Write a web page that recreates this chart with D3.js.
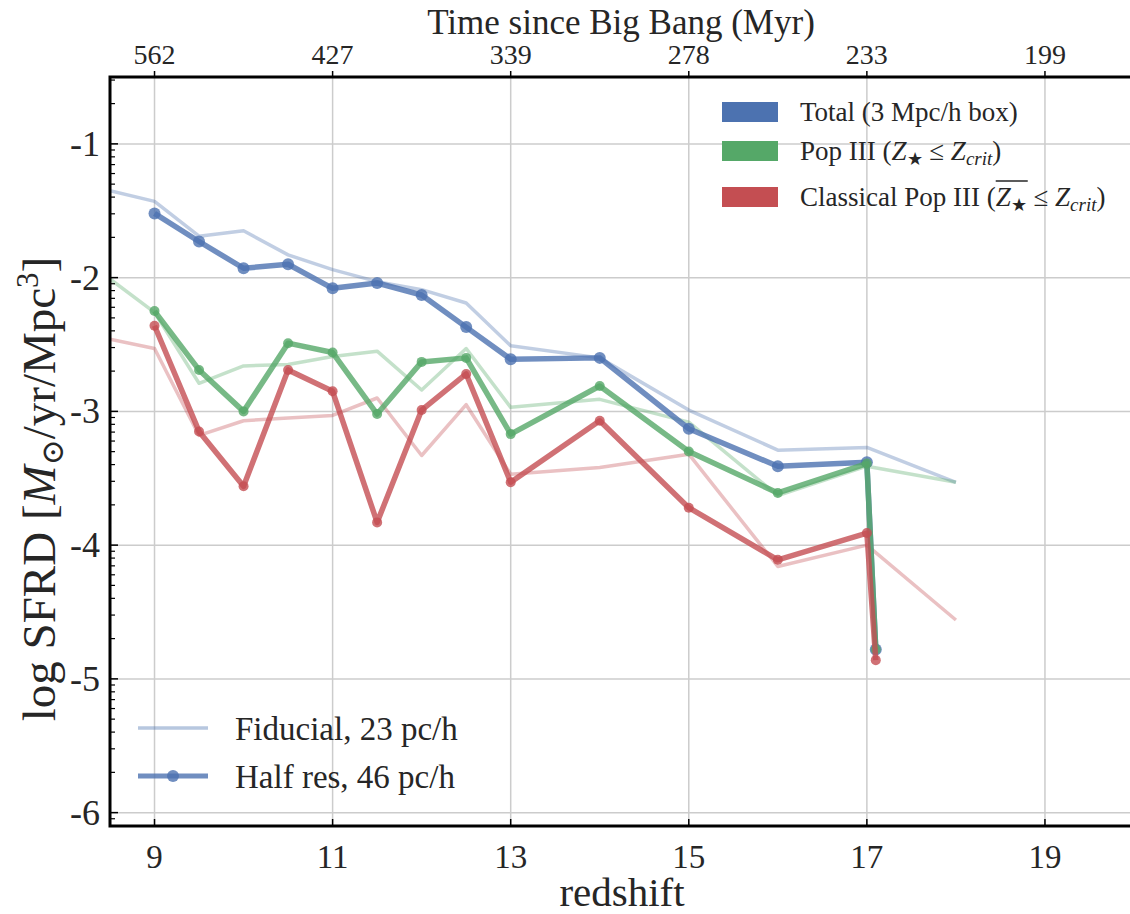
<!DOCTYPE html>
<html>
<head>
<meta charset="utf-8">
<script src="https://cdn.jsdelivr.net/npm/d3@7"></script>
<style>
  body { margin: 0; background: #fff; }
  svg { font-family: "Liberation Serif", "DejaVu Serif", serif; }
</style>
</head>
<body>
<script>
// redshift samples
var zHalf = [9, 9.5, 10, 10.5, 11, 11.5, 12, 12.5, 13, 14, 15, 16, 17, 17.1];
var zFid = [8.5, 9, 9.5, 10, 10.5, 11, 11.5, 12, 12.5, 13, 14, 15, 16, 17, 18];

// log SFRD, half res run (46 pc/h)
var totalHalf = [-1.52, -1.73, -1.93, -1.90, -2.08, -2.04, -2.13, -2.37, -2.61, -2.60, -3.13, -3.41, -3.38, -4.78];
var popHalf = [-2.25, -2.69, -3.00, -2.49, -2.56, -3.02, -2.63, -2.60, -3.17, -2.81, -3.30, -3.61, -3.39, -4.78];
var classHalf = [-2.36, -3.15, -3.56, -2.69, -2.85, -3.83, -2.99, -2.72, -3.53, -3.07, -3.72, -4.11, -3.91, -4.86];

// log SFRD, fiducial run (23 pc/h)
var totalFid = [-1.35, -1.43, -1.69, -1.65, -1.83, -1.94, -2.03, -2.09, -2.19, -2.51, -2.60, -2.99, -3.29, -3.27, -3.53];
var popFid = [-2.01, -2.26, -2.79, -2.66, -2.65, -2.59, -2.55, -2.84, -2.53, -2.97, -2.91, -3.08, -3.63, -3.41, -3.53];
var classFid = [-2.46, -2.53, -3.18, -3.07, -3.05, -3.03, -2.90, -3.33, -2.95, -3.47, -3.42, -3.32, -4.16, -4.00, -4.56];

var xTicks = [9, 11, 13, 15, 17, 19];
var timeLabels = ["562", "427", "339", "278", "233", "199"];
var yTicks = [-1, -2, -3, -4, -5, -6];

var colors = { total: "#4C72B0", pop: "#55A868", cls: "#C44E52" };

var W = 1130, H = 914;
var m = { left: 110, right: 1134, top: 77, bottom: 826 };

var x = d3.scaleLinear().domain([8.5, 20]).range([m.left, m.right]);
var y = d3.scaleLinear().domain([-6.1, -0.5]).range([m.bottom, m.top]);

var svg = d3.select("body").append("svg")
	.attr("width", W)
	.attr("height", H);

svg.append("defs").append("clipPath").attr("id", "clip")
	.append("rect")
	.attr("x", m.left).attr("y", m.top)
	.attr("width", m.right - m.left).attr("height", m.bottom - m.top);

// grid
var grid = svg.append("g");
grid.selectAll(".gx").data(xTicks).enter().append("line")
	.attr("x1", d => x(d)).attr("x2", d => x(d))
	.attr("y1", m.top).attr("y2", m.bottom)
	.attr("stroke", "#cccccc").attr("stroke-width", 1.5);
grid.selectAll(".gy").data(yTicks).enter().append("line")
	.attr("x1", m.left).attr("x2", m.right)
	.attr("y1", d => y(d)).attr("y2", d => y(d))
	.attr("stroke", "#cccccc").attr("stroke-width", 1.5);

// minor ticks (log spacing inside each decade)
var minor = [];
for (var n = -7; n <= -1; n++) {
	for (var k = 2; k <= 9; k++) {
		var v = n + Math.log10(k);
		if (v > -6.1 && v < -0.5) minor.push(v);
	}
}

var line = d3.line().x(d => x(d[0])).y(d => y(d[1]));
var plot = svg.append("g").attr("clip-path", "url(#clip)");

function series(zs, vs, col, faint, r) {
	var pts = zs.map((z, i) => [z, vs[i]]);
	plot.append("path").datum(pts)
		.attr("d", line)
		.attr("fill", "none")
		.attr("stroke", col)
		.attr("stroke-width", faint ? 3.5 : 5.5)
		.attr("stroke-opacity", faint ? 0.35 : 0.8)
		.attr("stroke-linejoin", "round");
	if (!faint) {
		plot.selectAll(null).data(pts).enter().append("circle")
			.attr("cx", d => x(d[0])).attr("cy", d => y(d[1]))
			.attr("r", r)
			.attr("fill", col).attr("fill-opacity", 0.8);
	}
}

series(zFid, totalFid, colors.total, true);
series(zFid, popFid, colors.pop, true);
series(zFid, classFid, colors.cls, true);
series(zHalf, totalHalf, colors.total, false, 6);
series(zHalf, popHalf, colors.pop, false, 5);
series(zHalf, classHalf, colors.cls, false, 5);

// ticks
var tk = svg.append("g").attr("stroke", "#000");
tk.selectAll(".ym").data(yTicks).enter().append("line")
	.attr("x1", m.left).attr("x2", m.left + 8)
	.attr("y1", d => y(d)).attr("y2", d => y(d)).attr("stroke-width", 1.5);
tk.selectAll(".yn").data(minor).enter().append("line")
	.attr("x1", m.left).attr("x2", m.left + 5)
	.attr("y1", d => y(d)).attr("y2", d => y(d)).attr("stroke-width", 1.2);
tk.selectAll(".xb").data(xTicks).enter().append("line")
	.attr("x1", d => x(d)).attr("x2", d => x(d))
	.attr("y1", m.bottom).attr("y2", m.bottom - 7).attr("stroke-width", 1.5);
tk.selectAll(".xt").data(xTicks).enter().append("line")
	.attr("x1", d => x(d)).attr("x2", d => x(d))
	.attr("y1", m.top).attr("y2", m.top - 6).attr("stroke-width", 1.5);

// spines
svg.append("rect")
	.attr("x", m.left).attr("y", m.top)
	.attr("width", m.right - m.left).attr("height", m.bottom - m.top)
	.attr("fill", "none").attr("stroke", "#000").attr("stroke-width", 3);

// tick labels
var txt = "#262626";
svg.selectAll(".ylab").data(yTicks).enter().append("text")
	.attr("x", 100).attr("y", d => y(d) + 12)
	.attr("text-anchor", "end").attr("font-size", 36).attr("fill", txt)
	.text(d => d);
svg.selectAll(".xlab").data(xTicks).enter().append("text")
	.attr("x", d => x(d)).attr("y", 868)
	.attr("text-anchor", "middle").attr("font-size", 33).attr("fill", txt)
	.text(d => d);
svg.selectAll(".tlab").data(xTicks).enter().append("text")
	.attr("x", d => x(d)).attr("y", 64)
	.attr("text-anchor", "middle").attr("font-size", 28).attr("fill", txt)
	.text((d, i) => timeLabels[i]);

// axis titles
svg.append("text").attr("x", (m.left + m.right) / 2).attr("y", 906)
	.attr("text-anchor", "middle").attr("font-size", 41).attr("fill", txt)
	.text("redshift");
svg.append("text").attr("x", 621).attr("y", 34)
	.attr("text-anchor", "middle").attr("font-size", 35).attr("fill", txt)
	.text("Time since Big Bang (Myr)");

var yl = svg.append("text")
	.attr("transform", "translate(55,489) rotate(-90)")
	.attr("text-anchor", "middle").attr("font-size", 47).attr("fill", txt);
yl.append("tspan").text("log SFRD [");
yl.append("tspan").attr("font-style", "italic").text("M");
yl.append("tspan").attr("font-size", 31).attr("dy", 8).text("\u2299");
yl.append("tspan").attr("dy", -8).text("/yr/Mpc");
yl.append("tspan").attr("font-size", 31).attr("dy", -17).text("3");
yl.append("tspan").attr("dy", 17).text("]");

// legend: components
var lg = svg.append("g").attr("font-size", 27).attr("fill", txt);
var legItems = [
	{ col: colors.total, y: 102 },
	{ col: colors.pop, y: 141 },
	{ col: colors.cls, y: 187 }
];
lg.selectAll("rect").data(legItems).enter().append("rect")
	.attr("x", 722).attr("y", d => d.y)
	.attr("width", 56).attr("height", 20)
	.attr("fill", d => d.col);

lg.append("text").attr("x", 800).attr("y", 121).text("Total (3 Mpc/h box)");

var t2 = lg.append("text").attr("x", 800).attr("y", 160);
t2.append("tspan").text("Pop III (");
t2.append("tspan").attr("font-style", "italic").text("Z");
t2.append("tspan").attr("font-size", 18).attr("dy", 5).text("\u2605");
t2.append("tspan").attr("dy", -5).text(" \u2264 ");
t2.append("tspan").attr("font-style", "italic").text("Z");
t2.append("tspan").attr("font-style", "italic").attr("font-size", 19).attr("dy", 5).text("crit");
t2.append("tspan").attr("dy", -5).text(")");

var t3 = lg.append("text").attr("x", 800).attr("y", 206);
t3.append("tspan").text("Classical Pop III (");
t3.append("tspan").attr("font-style", "italic").text("Z");
t3.append("tspan").attr("font-size", 18).attr("dy", 5).text("\u2605");
t3.append("tspan").attr("dy", -5).text(" \u2264 ");
t3.append("tspan").attr("font-style", "italic").text("Z");
t3.append("tspan").attr("font-style", "italic").attr("font-size", 19).attr("dy", 5).text("crit");
t3.append("tspan").attr("dy", -5).text(")");

// overline above Z*
var n3 = t3.node();
var s0 = n3.getStartPositionOfChar(19);
var e0 = n3.getEndPositionOfChar(20);
lg.append("line")
	.attr("x1", s0.x).attr("x2", e0.x + 1)
	.attr("y1", 181).attr("y2", 181)
	.attr("stroke", txt).attr("stroke-width", 1.5);

// legend: resolution
var lr = svg.append("g").attr("font-size", 33).attr("fill", txt);
lr.append("line").attr("x1", 138).attr("x2", 208).attr("y1", 728).attr("y2", 728)
	.attr("stroke", colors.total).attr("stroke-width", 3.5).attr("stroke-opacity", 0.4);
lr.append("line").attr("x1", 138).attr("x2", 208).attr("y1", 776).attr("y2", 776)
	.attr("stroke", colors.total).attr("stroke-width", 5).attr("stroke-opacity", 0.8);
lr.append("circle").attr("cx", 173).attr("cy", 776).attr("r", 6)
	.attr("fill", colors.total).attr("fill-opacity", 0.8);
lr.append("text").attr("x", 235).attr("y", 740).text("Fiducial, 23 pc/h");
lr.append("text").attr("x", 235).attr("y", 788).text("Half res, 46 pc/h");
</script>
</body>
</html>
